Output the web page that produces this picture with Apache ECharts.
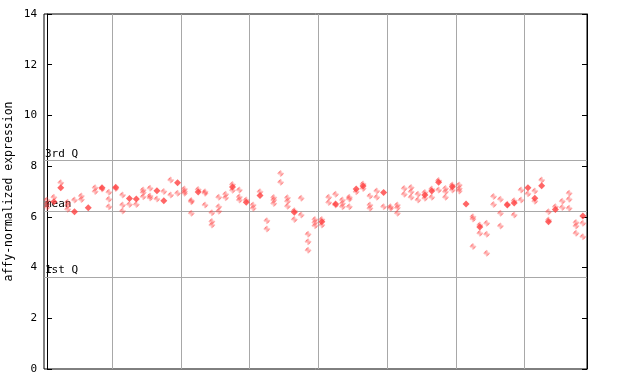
<!DOCTYPE html>
<html>
<head>
<meta charset="utf-8">
<script src="https://cdn.jsdelivr.net/npm/echarts@6/dist/echarts.min.js"></script>
<style>html,body{margin:0;padding:0;background:#fff}#c{width:640px;height:384px}</style>
</head>
<body>
<div id="c"></div>
<script>
// sample index, value (hatched / light markers)
const hatchedIdx = [0,0,0,1,2,3,3,3,4,5,5,7,7,8,9,9,9,10,11,11,11,12,13,14,14,14,15,15,15,16,17,18,18,19,20,20,20,21,21,21,22,23,23,23,24,24,24,25,25,25,26,26,27,27,28,28,28,29,30,30,31,32,32,33,33,33,34,34,35,35,35,36,36,37,37,38,38,38,39,39,39,40,40,41,41,42,42,43,43,43,44,44,44,45,46,46,47,47,47,48,48,49,50,50,51,51,51,52,52,53,53,53,54,54,55,55,56,56,57,57,58,58,58,59,59,60,60,60,62,62,62,63,63,64,64,64,65,65,66,66,66,67,68,68,69,69,70,71,71,72,73,73,74,75,75,76,76,76,77,77,77,78,78];
const hatchedVal = [6.66,6.51,6.38,6.77,7.35,6.58,6.45,6.30,6.66,6.82,6.68,7.15,7.00,7.10,6.97,6.69,6.40,7.12,6.86,6.47,6.23,6.49,6.49,7.06,6.96,6.79,7.13,6.82,6.74,6.70,7.00,7.45,6.86,6.93,7.10,6.93,7.00,6.65,6.60,6.14,7.08,6.99,6.93,6.47,6.16,5.82,5.68,6.77,6.40,6.22,6.89,6.75,7.28,7.05,7.06,6.78,6.66,6.66,6.47,6.34,6.99,5.85,5.52,6.76,6.66,6.53,7.71,7.36,6.75,6.62,6.42,6.24,5.90,6.73,6.07,5.31,5.02,4.68,5.90,5.78,5.65,5.90,5.68,6.77,6.57,6.89,6.47,6.66,6.53,6.40,6.77,6.70,6.40,6.99,7.30,7.12,6.82,6.47,6.34,7.02,6.77,6.40,6.40,6.34,6.47,6.36,6.14,7.12,6.89,7.16,6.99,6.77,6.89,6.66,6.96,6.73,7.10,6.77,7.43,7.06,7.12,6.99,6.77,7.26,7.06,7.26,7.12,7.02,6.00,5.92,4.83,5.68,5.35,5.75,5.31,4.56,6.80,6.49,6.69,6.14,5.64,6.50,6.64,6.07,7.06,6.66,6.91,7.02,6.62,7.45,6.20,5.88,6.40,6.62,6.37,6.93,6.69,6.34,5.78,5.64,5.35,5.75,5.22];
// sample index, value (solid markers)
const solidIdx = [1,2,4,6,8,10,12,13,16,17,19,22,27,29,31,36,40,42,45,46,49,55,56,57,59,61,63,67,68,70,71,72,73,74,78];
const solidVal = [6.60,7.15,6.20,6.36,7.15,7.17,6.72,6.70,7.03,6.64,7.35,6.98,7.18,6.58,6.84,6.18,5.81,6.51,7.10,7.22,6.96,6.86,7.02,7.36,7.19,6.51,5.60,6.47,6.55,7.15,6.73,7.23,5.81,6.29,6.03];
const groupBounds = [9.5,19.5,29.5,39.5,49.5,59.5,69.5];
const refLines = [{name:'3rd Q', value:8.23},{name:'mean', value:6.23},{name:'1st Q', value:3.63}];
const yTicks = [0,2,4,6,8,10,12,14];

const RED = '#ff4040';
const pat = document.createElement('canvas');
pat.width = 2; pat.height = 2;
const pc = pat.getContext('2d');
pc.fillStyle = RED;
pc.fillRect(0,0,1,1);
pc.fillRect(1,1,1,1);

const mono = 'DejaVu Sans Mono';
const chart = echarts.init(document.getElementById('c'), null, {renderer:'canvas'});
chart.setOption({
  animation:false,
  backgroundColor:'#fff',
  grid:{left:44, right:53, top:14, bottom:15, outerBoundsMode:'none', containLabel:false, show:true, borderColor:'#000', borderWidth:1, backgroundColor:'transparent'},
  xAxis:{type:'value', min:-0.44, max:78.6, axisLine:{show:false}, axisTick:{show:false}, axisLabel:{show:false}, splitLine:{show:false}},
  yAxis:[{type:'value', min:yTicks[0], max:yTicks[yTicks.length-1], interval:2,
    name:'affy-normalized expression', nameLocation:'middle', nameGap:29, nameRotate:90, nameMoveOverlap:false,
    nameTextStyle:{fontFamily:mono, fontSize:11.5, color:'#000'},
    axisLine:{show:true, lineStyle:{color:'#000'}}, axisTick:{show:true, inside:true, length:5, lineStyle:{color:'#000'}},
    axisLabel:{fontFamily:mono, fontSize:11, color:'#000', margin:7}, splitLine:{show:false}},
   {type:'value', position:'right', min:0, max:14, interval:2,
    axisLine:{show:true, lineStyle:{color:'#000'}}, axisTick:{show:true, inside:true, length:5, lineStyle:{color:'#000'}},
    axisLabel:{show:false}, splitLine:{show:false}}],
  series:[
    {type:'scatter', symbol:'diamond', symbolSize:7, z:3,
     data: hatchedIdx.map((x,k)=>[x, hatchedVal[k]]),
     itemStyle:{color:{image:pat, repeat:'repeat'}},
     markLine:{silent:true, symbol:'none', animation:false, z:1,
       lineStyle:{color:'#a8a8a8', type:'solid', width:1},
       label:{show:false},
       data: groupBounds.map(v=>({xAxis:v}))}},
    {type:'scatter', symbol:'diamond', symbolSize:7, z:4,
     data: solidIdx.map((x,k)=>[x, solidVal[k]]),
     itemStyle:{color:RED},
     markLine:{silent:true, symbol:'none', animation:false, z:1,
       lineStyle:{color:'#a8a8a8', type:'solid', width:1},
       label:{show:true, position:'insideStartTop', distance:[1,1], fontFamily:mono, fontSize:11, color:'#000', formatter:p=>p.name},
       data: refLines.map(r=>({name:r.name, yAxis:r.value}))}}
  ]
});
</script>
</body>
</html>
